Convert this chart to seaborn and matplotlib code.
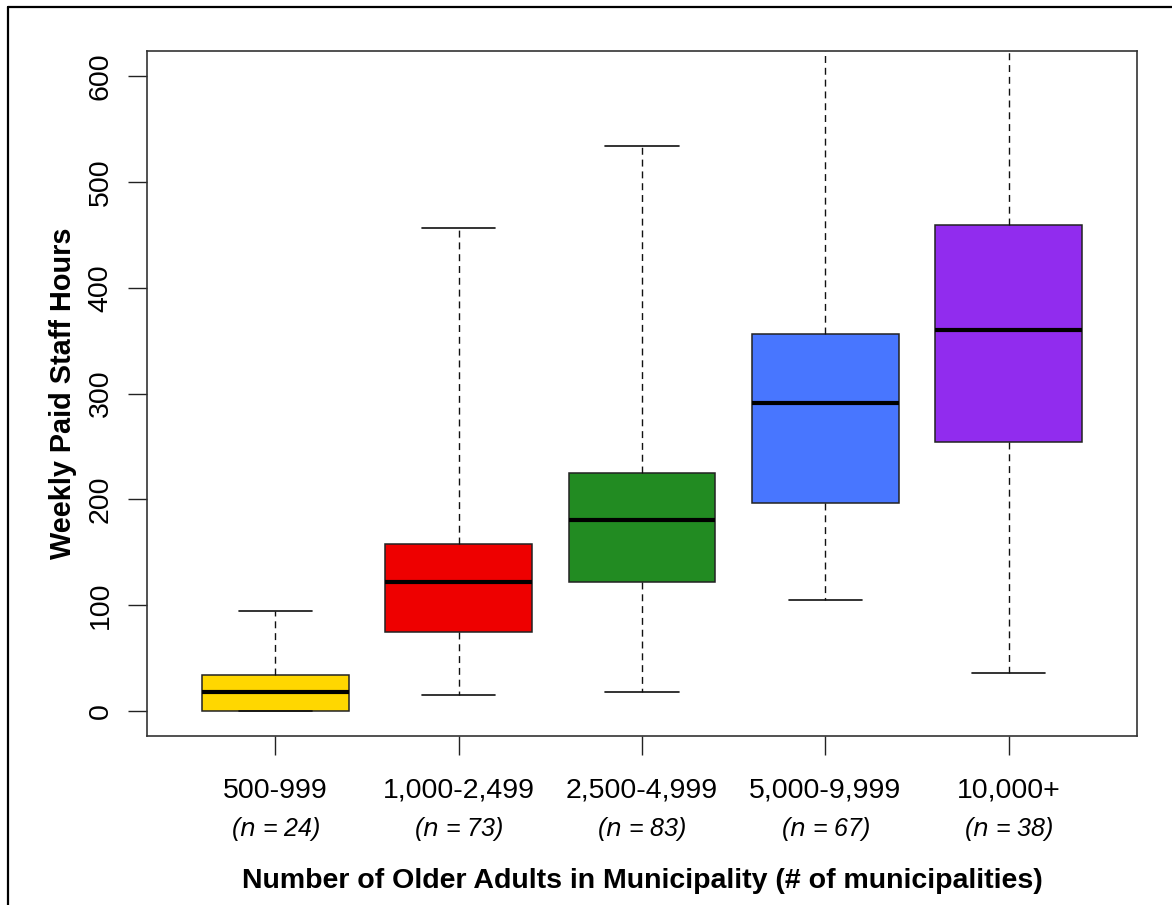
import numpy as np
import pandas as pd
import seaborn as sns
import matplotlib
matplotlib.use("Agg")
import matplotlib.pyplot as plt
from matplotlib.lines import Line2D

# Group labels and sample sizes
groups = ["500-999", "1,000-2,499", "2,500-4,999", "5,000-9,999", "10,000+"]
n_counts = [24, 73, 83, 67, 38]

# Five-number summaries (min, Q1, median, Q3, max) of weekly paid staff hours
mins = [0, 15, 18, 105, 36]
q1s = [0, 74, 122, 196, 254]
medians = [18, 122, 180, 291, 360]
q3s = [34, 158, 225, 356, 459]
maxs = [94, 457, 534, 700, 720]

colors = ["#FFD700", "#EE0000", "#228B22", "#4876FF", "#912CEE"]

rows = []
for g, a, b, c, d, e in zip(groups, mins, q1s, medians, q3s, maxs):
    for v in (a, b, c, d, e):
        rows.append({"group": g, "hours": v})
df = pd.DataFrame(rows)

sns.set_style("ticks")
plt.rcParams["font.family"] = ["Liberation Sans", "DejaVu Sans"]
plt.rcParams.update({
    "text.color": "black",
    "axes.labelcolor": "black",
    "xtick.color": "black",
    "ytick.color": "black",
})

fig = plt.figure(figsize=(11.72, 9.05), dpi=100)
ax = fig.add_axes([147 / 1172, 1 - 736 / 905, (1137 - 147) / 1172, (736 - 51) / 905])

sns.boxplot(
    data=df, x="group", y="hours", hue="group", order=groups, hue_order=groups,
    palette=colors, saturation=1, legend=False, width=0.8, whis=(0, 100),
    linecolor="#111111", linewidth=1.0, fliersize=0, ax=ax,
    whiskerprops=dict(linestyle=(0, (5, 3.5)), color="#111111", linewidth=1.0),
    capprops=dict(color="#111111", linewidth=1.2),
    medianprops=dict(color="black", linewidth=3.0),
    boxprops=dict(edgecolor="#222222", linewidth=1.1),
)

ax.set_xlim(-0.7, 4.7)
ax.set_ylim(-24, 624)
ax.set_yticks([0, 100, 200, 300, 400, 500, 600])
ax.set_yticklabels(["0", "100", "200", "300", "400", "500", "600"],
                   rotation=90, va="center", fontsize=20.5)
ax.set_xticks(range(len(groups)))
ax.set_xticklabels(groups, fontsize=20.5)
ax.tick_params(axis="both", length=14, width=1.0, color="#222222")
ax.tick_params(axis="y", pad=10)
ax.tick_params(axis="x", pad=16)

for s in ax.spines.values():
    s.set_visible(True)
    s.set_linewidth(1.2)
    s.set_color("#333333")

# Sample sizes under each group label
for i, n in enumerate(n_counts):
    ax.annotate(f"($n$ = {n})", xy=(i, 0), xycoords=("data", "axes fraction"),
                xytext=(0, -67), textcoords="offset points", ha="center", va="center",
                fontsize=18, fontstyle="italic")

ax.set_xlabel("Number of Older Adults in Municipality (# of municipalities)",
              fontsize=20.5, fontweight="bold", labelpad=46)
ax.set_ylabel("Weekly Paid Staff Hours", fontsize=20.8, fontweight="bold", labelpad=8)

# Outer frame around the figure
fig.add_artist(Line2D([7.5 / 1172, 7.5 / 1172], [0, 1 - 7.5 / 905],
                      transform=fig.transFigure, color="black", linewidth=1.6))
fig.add_artist(Line2D([7.5 / 1172, 1], [1 - 7.5 / 905, 1 - 7.5 / 905],
                      transform=fig.transFigure, color="black", linewidth=1.6))

fig.savefig("out.png", dpi=100)
